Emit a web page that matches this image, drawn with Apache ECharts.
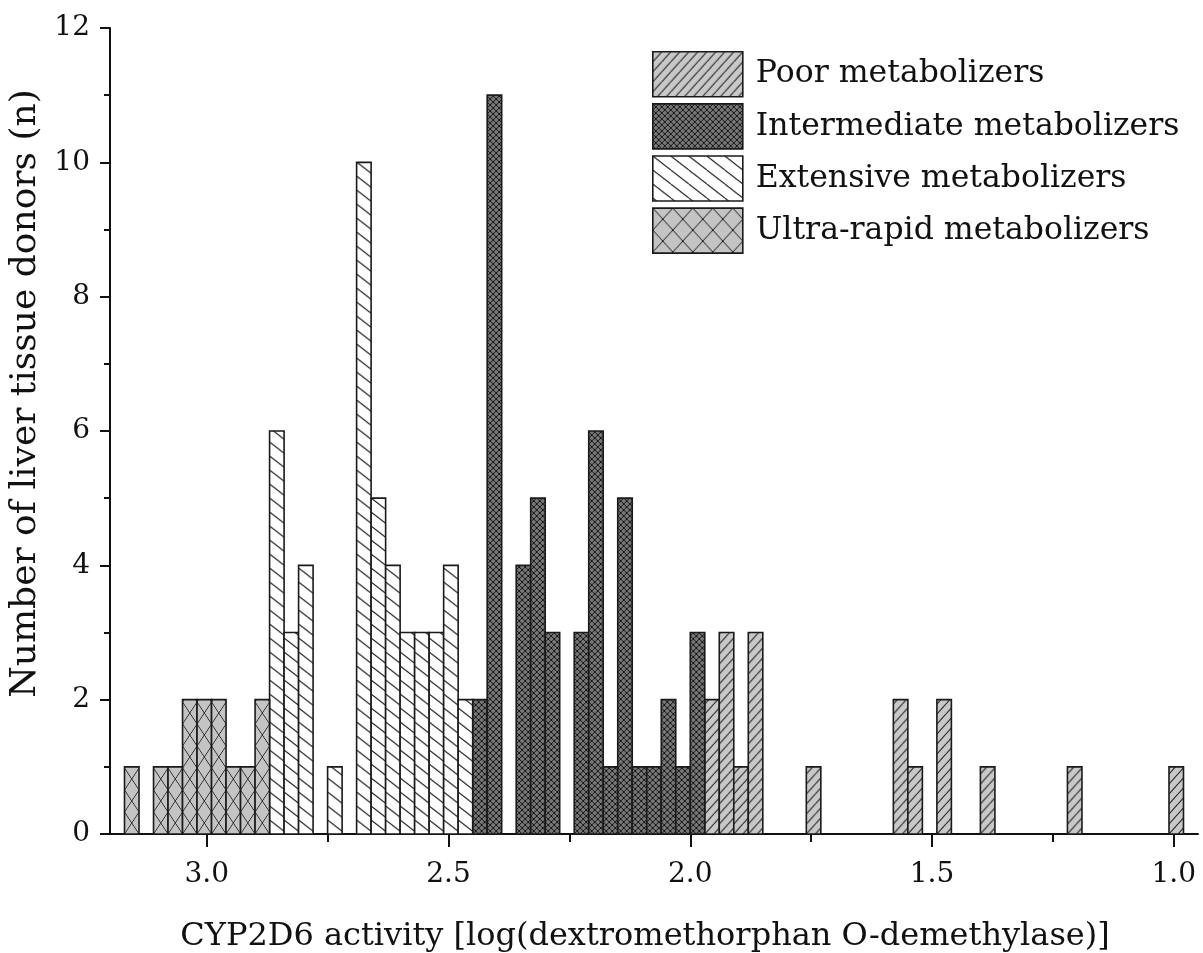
<!DOCTYPE html>
<html>
<head>
<meta charset="utf-8">
<script src="https://cdn.jsdelivr.net/npm/echarts@6/dist/echarts.min.js"></script>
<style>
html,body{margin:0;padding:0;background:#fff;}
#chart{width:1203px;height:953px;}
</style>
</head>
<body>
<div id="chart"></div>
<script>
// ---- data ----
const binWidth = 0.03;
const seriesNames = ['Poor metabolizers', 'Intermediate metabolizers', 'Extensive metabolizers', 'Ultra-rapid metabolizers'];

const poorCenters = [1.955, 1.925, 1.895, 1.865, 1.745, 1.565, 1.535, 1.475, 1.385, 1.205, 0.995];
const poorCounts  = [2, 3, 1, 3, 1, 2, 1, 2, 1, 1, 1];

const intermediateCenters = [2.435, 2.405, 2.345, 2.315, 2.285, 2.225, 2.195, 2.165, 2.135, 2.105, 2.075, 2.045, 2.015, 1.985];
const intermediateCounts  = [2, 11, 4, 5, 3, 3, 6, 1, 5, 1, 1, 2, 1, 3];

const extensiveCenters = [2.855, 2.825, 2.795, 2.735, 2.675, 2.645, 2.615, 2.585, 2.555, 2.525, 2.495, 2.465];
const extensiveCounts  = [6, 3, 4, 1, 10, 5, 4, 3, 3, 3, 4, 2];

const ultraCenters = [3.155, 3.095, 3.065, 3.035, 3.005, 2.975, 2.945, 2.915, 2.885];
const ultraCounts  = [1, 1, 1, 2, 2, 2, 1, 1, 2];

const xMajorTicks = [1.0, 1.5, 2.0, 2.5, 3.0];
const xMinorTicks = [1.25, 1.75, 2.25, 2.75];

// ---- hatch patterns ----
function makeCanvas(w, h, bg, lineColor, lw, drawFn) {
  const c = document.createElement('canvas');
  c.width = w; c.height = h;
  const ctx = c.getContext('2d');
  ctx.fillStyle = bg; ctx.fillRect(0, 0, w, h);
  ctx.strokeStyle = lineColor; ctx.lineWidth = lw;
  ctx.beginPath();
  drawFn(ctx, w, h);
  ctx.stroke();
  return c;
}
function fwd(ctx, w, h) { // "/"
  for (const o of [-w, 0, w]) { ctx.moveTo(o, h); ctx.lineTo(o + w, 0); }
}
function back(ctx, w, h) { // "\"
  for (const o of [-w, 0, w]) { ctx.moveTo(o, 0); ctx.lineTo(o + w, h); }
}
function cross(c, w, h) { fwd(c, w, h); back(c, w, h); }

const cvPoor  = makeCanvas(9, 10, '#c8c8c8', '#222', 1.1, fwd);
const cvInter = makeCanvas(6, 6, '#777777', '#151515', 1, cross);
const cvExt   = makeCanvas(18, 14, '#ffffff', '#1a1a1a', 1.1, back);
const cvUltraLegend = makeCanvas(20, 22, '#c4c4c4', '#1a1a1a', 1, cross);
const cvUltraBar    = makeCanvas(30, 44, '#c4c4c4', '#1a1a1a', 1.4, cross);

const legendFill = {
  poor:  { image: cvPoor, repeat: 'repeat' },
  inter: { image: cvInter, repeat: 'repeat' },
  ext:   { image: cvExt, repeat: 'repeat' },
  ultra: { image: cvUltraLegend, repeat: 'repeat' }
};

function toData(centers, counts) {
  return centers.map((c, i) => [c + binWidth / 2, c - binWidth / 2, counts[i]]);
}

function makeRender(kind) {
  return function (params, api) {
    const p0 = api.coord([api.value(0), api.value(2)]);
    const p1 = api.coord([api.value(1), 0]);
    const x = Math.min(p0[0], p1[0]);
    const w = Math.abs(p1[0] - p0[0]);
    let fill;
    if (kind === 'ultra') {
      fill = { image: cvUltraBar, repeat: 'repeat', x: x, y: p1[1], scaleX: w / 30, scaleY: 0.5 };
    } else {
      fill = Object.assign({}, legendFill[kind], { x: x, y: p1[1] });
    }
    return {
      type: 'rect',
      shape: { x: x, y: p0[1], width: w, height: p1[1] - p0[1] },
      style: { fill: fill, stroke: '#1a1a1a', lineWidth: 1.6 }
    };
  };
}

const FONT = 'DejaVu Serif';

function mkSeries(name, kind, centers, counts) {
  return {
    name: name,
    type: 'custom',
    renderItem: makeRender(kind),
    encode: { x: [0, 1], y: 2 },
    itemStyle: { color: legendFill[kind], borderColor: '#1a1a1a', borderWidth: 1.6 },
    data: toData(centers, counts),
    animation: false
  };
}

const chart = echarts.init(document.getElementById('chart'), null, { renderer: 'canvas' });
chart.setOption({
  backgroundColor: '#ffffff',
  animation: false,
  grid: { left: 110, right: 5, top: 28, bottom: 119, containLabel: false, outerBoundsMode: 'none' },
  legend: {
    orient: 'vertical',
    left: 652, top: 51, padding: 0,
    itemWidth: 90, itemHeight: 45, itemGap: 5.5,
    icon: 'rect',
    data: seriesNames,
    textStyle: { fontFamily: FONT, fontSize: 31.5, color: '#111', padding: [0, 0, 0, 8] },
    itemStyle: { borderColor: '#1a1a1a', borderWidth: 1.6 },
    selectedMode: false
  },
  xAxis: [{
    type: 'value', inverse: true, min: 0.95, max: 3.2,
    axisLine: { show: true, lineStyle: { color: '#111', width: 2 } },
    axisTick: { show: true, inside: false, length: 13, customValues: xMajorTicks, lineStyle: { color: '#111', width: 2 } },
    axisLabel: { customValues: xMajorTicks, formatter: v => v.toFixed(1), margin: 27, fontFamily: FONT, fontSize: 28, color: '#111' },
    splitLine: { show: false },
    name: 'CYP2D6 activity [log(dextromethorphan O-demethylase)]',
    nameLocation: 'middle', nameGap: 87,
    nameTextStyle: { fontFamily: FONT, fontSize: 32, color: '#111', padding: [0, 18, 0, 0] }
  }, {
    type: 'value', inverse: true, min: 0.95, max: 3.2, position: 'bottom',
    axisLine: { show: false },
    axisTick: { show: true, inside: false, length: 8, customValues: xMinorTicks, lineStyle: { color: '#111', width: 2 } },
    axisLabel: { show: false },
    splitLine: { show: false }
  }],
  yAxis: {
    type: 'value', min: 0, max: 12, interval: 2,
    axisLine: { show: true, lineStyle: { color: '#111', width: 2 } },
    axisTick: { show: true, inside: false, length: 10, lineStyle: { color: '#111', width: 2 } },
    minorTick: { show: true, splitNumber: 2, length: 6, lineStyle: { color: '#111', width: 2 } },
    axisLabel: { margin: 20, fontFamily: FONT, fontSize: 28, color: '#111' },
    splitLine: { show: false },
    name: 'Number of liver tissue donors (n)',
    nameLocation: 'middle', nameGap: 63, nameRotate: 90,
    nameTextStyle: { fontFamily: FONT, fontSize: 36, color: '#111', padding: [0, 0, 0, 75] }
  },
  series: [
    mkSeries(seriesNames[0], 'poor', poorCenters, poorCounts),
    mkSeries(seriesNames[1], 'inter', intermediateCenters, intermediateCounts),
    mkSeries(seriesNames[2], 'ext', extensiveCenters, extensiveCounts),
    mkSeries(seriesNames[3], 'ultra', ultraCenters, ultraCounts)
  ]
});
</script>
</body>
</html>
